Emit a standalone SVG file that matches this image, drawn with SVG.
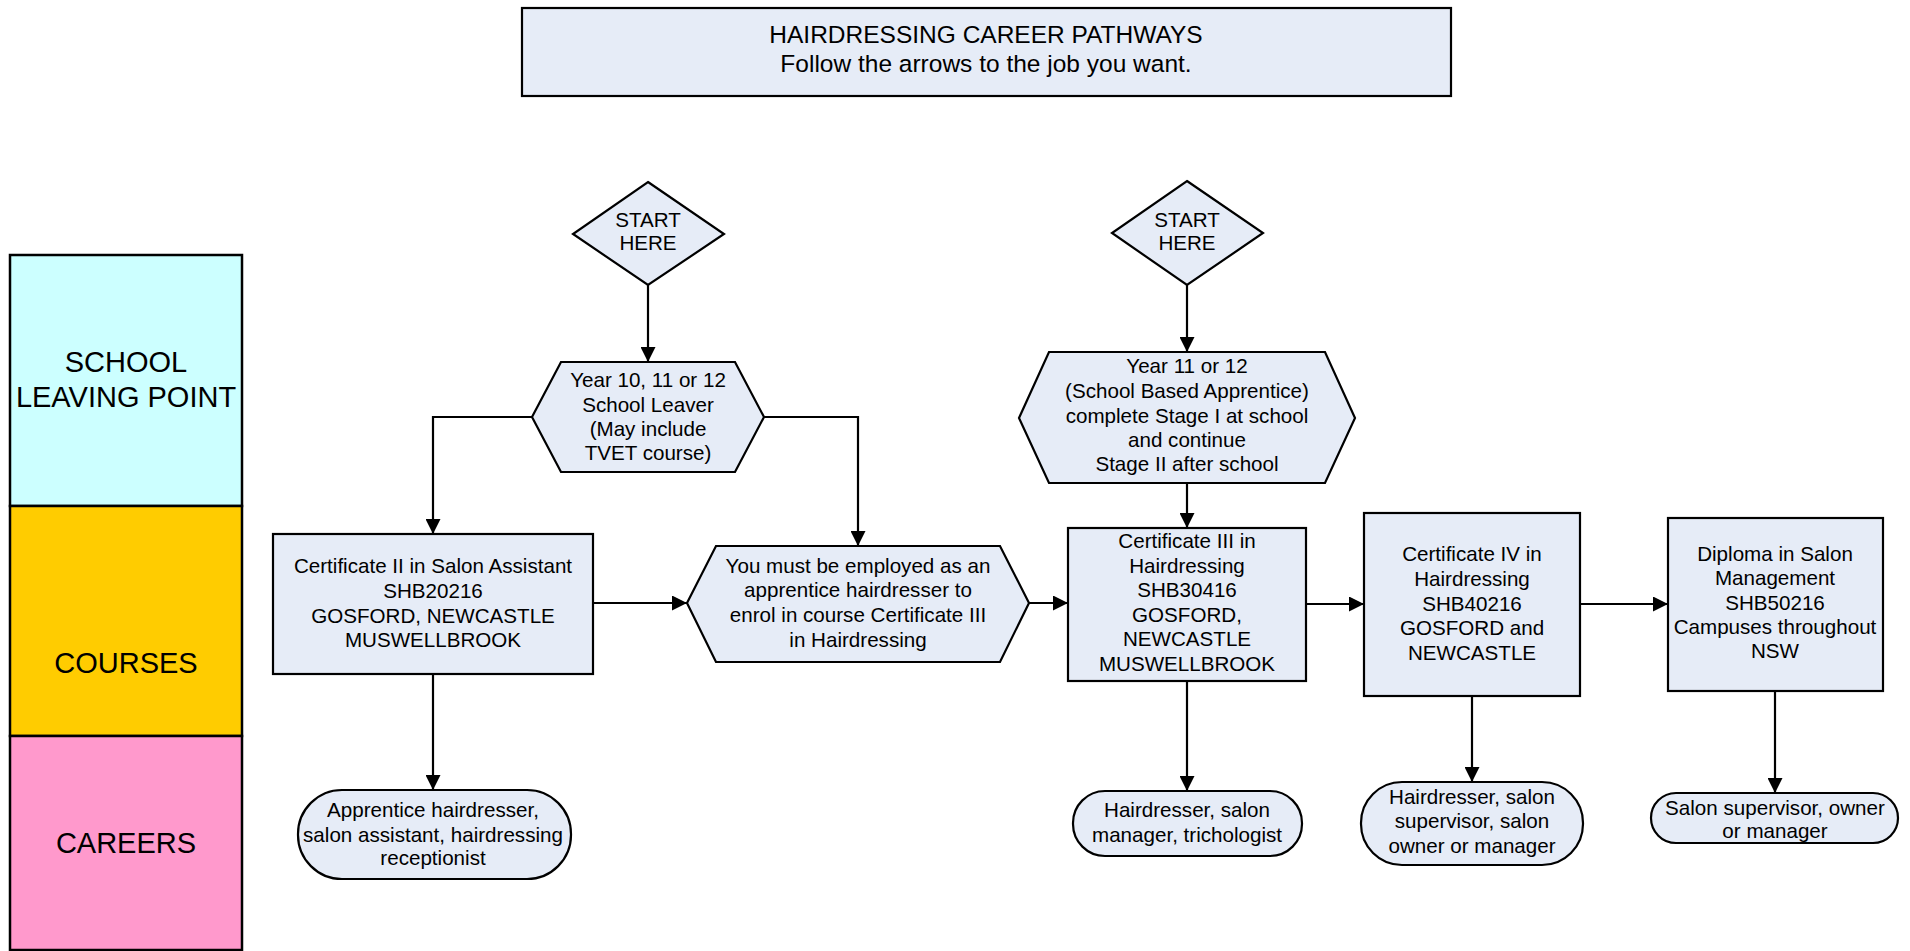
<svg xmlns="http://www.w3.org/2000/svg" width="1910" height="951" viewBox="0 0 1910 951">
<style>
.n{fill:#E6ECF7;stroke:#000;stroke-width:2.2}
.t{font-family:"Liberation Sans",Arial,sans-serif;font-size:20.6px;fill:#000;text-anchor:middle}
.h{font-family:"Liberation Sans",Arial,sans-serif;font-size:24.5px;fill:#000;text-anchor:middle}
.lane{stroke:#000;stroke-width:2.5}
.lt{font-family:"Liberation Sans",Arial,sans-serif;font-size:29px;fill:#000;text-anchor:middle}
.c{fill:none;stroke:#000;stroke-width:2.2;marker-end:url(#ah)}
</style>
<defs>
<marker id="ah" markerUnits="userSpaceOnUse" markerWidth="15" markerHeight="15" viewBox="0 0 15 15" refX="15" refY="7.5" orient="auto">
<path d="M0,0 L15,7.5 L0,15 Z" fill="#000"/>
</marker>
</defs>
<rect width="1910" height="951" fill="#fff"/>
<g id="title">
<rect class="n" x="522" y="8" width="929" height="88"/>
<text class="h" x="986" y="43">HAIRDRESSING CAREER PATHWAYS</text>
<text class="h" x="986" y="72">Follow the arrows to the job you want.</text>
</g>
<g id="lane-school">
<rect class="lane" x="10" y="255" width="232" height="251" fill="#CCFFFF"/>
<text class="lt" x="126" y="372">SCHOOL</text>
<text class="lt" x="126" y="407">LEAVING POINT</text>
</g>
<g id="lane-courses">
<rect class="lane" x="10" y="506" width="232" height="230" fill="#FFCC00"/>
<text class="lt" x="126" y="673">COURSES</text>
</g>
<g id="lane-careers">
<rect class="lane" x="10" y="736" width="232" height="214" fill="#FF99CC"/>
<text class="lt" x="126" y="853">CAREERS</text>
</g>
<g id="connectors">
<path class="c" d="M648,285 L648,362"/>
<path class="c" d="M532,417 L433,417 L433,534"/>
<path class="c" d="M764,417 L858,417 L858,546"/>
<path class="c" d="M593,603 L687,603"/>
<path class="c" d="M433,674 L433,790"/>
<path class="c" d="M1187,285 L1187,352"/>
<path class="c" d="M1187,483 L1187,528"/>
<path class="c" d="M1029,603 L1068,603"/>
<path class="c" d="M1306,604 L1364,604"/>
<path class="c" d="M1580,604 L1668,604"/>
<path class="c" d="M1187,681 L1187,791"/>
<path class="c" d="M1472,696 L1472,782"/>
<path class="c" d="M1775,691 L1775,793"/>
</g>
<g id="start1">
<polygon class="n" points="648,182 724,234 648,285 573,234"/>
<text class="t" x="648" y="227">START</text>
<text class="t" x="648" y="250">HERE</text>
</g>
<g id="start2">
<polygon class="n" points="1187,181 1263,233 1187,285 1112,233"/>
<text class="t" x="1187" y="227">START</text>
<text class="t" x="1187" y="250">HERE</text>
</g>
<g id="leaver">
<polygon class="n" points="532,417 561,362 735,362 764,417 735,472 561,472"/>
<text class="t" x="648" y="387">Year 10, 11 or 12</text>
<text class="t" x="648" y="412">School Leaver</text>
<text class="t" x="648" y="436">(May include</text>
<text class="t" x="648" y="460">TVET course)</text>
</g>
<g id="sba">
<polygon class="n" points="1019,418 1049,352 1325,352 1355,418 1325,483 1049,483"/>
<text class="t" x="1187" y="373">Year 11 or 12</text>
<text class="t" x="1187" y="398">(School Based Apprentice)</text>
<text class="t" x="1187" y="423">complete Stage I at school</text>
<text class="t" x="1187" y="447">and continue</text>
<text class="t" x="1187" y="471">Stage II after school</text>
</g>
<g id="cert2">
<rect class="n" x="273" y="534" width="320" height="140"/>
<text class="t" x="433" y="573">Certificate II in Salon Assistant</text>
<text class="t" x="433" y="598">SHB20216</text>
<text class="t" x="433" y="623">GOSFORD, NEWCASTLE</text>
<text class="t" x="433" y="647">MUSWELLBROOK</text>
</g>
<g id="employed">
<polygon class="n" points="687,603 716,546 1000,546 1029,603 1000,662 716,662"/>
<text class="t" x="858" y="573">You must be employed as an</text>
<text class="t" x="858" y="597">apprentice hairdresser to</text>
<text class="t" x="858" y="622">enrol in course Certificate III</text>
<text class="t" x="858" y="647">in Hairdressing</text>
</g>
<g id="cert3">
<rect class="n" x="1068" y="528" width="238" height="153"/>
<text class="t" x="1187" y="548">Certificate III in</text>
<text class="t" x="1187" y="573">Hairdressing</text>
<text class="t" x="1187" y="597">SHB30416</text>
<text class="t" x="1187" y="622">GOSFORD,</text>
<text class="t" x="1187" y="646">NEWCASTLE</text>
<text class="t" x="1187" y="671">MUSWELLBROOK</text>
</g>
<g id="cert4">
<rect class="n" x="1364" y="513" width="216" height="183"/>
<text class="t" x="1472" y="561">Certificate IV in</text>
<text class="t" x="1472" y="586">Hairdressing</text>
<text class="t" x="1472" y="611">SHB40216</text>
<text class="t" x="1472" y="635">GOSFORD and</text>
<text class="t" x="1472" y="660">NEWCASTLE</text>
</g>
<g id="diploma">
<rect class="n" x="1668" y="518" width="215" height="173"/>
<text class="t" x="1775" y="561">Diploma in Salon</text>
<text class="t" x="1775" y="585">Management</text>
<text class="t" x="1775" y="610">SHB50216</text>
<text class="t" x="1775" y="634">Campuses throughout</text>
<text class="t" x="1775" y="658">NSW</text>
</g>
<g id="career1">
<rect class="n" x="298" y="790" width="273" height="89" rx="44" ry="44"/>
<text class="t" x="433" y="817">Apprentice hairdresser,</text>
<text class="t" x="433" y="842">salon assistant, hairdressing</text>
<text class="t" x="433" y="865">receptionist</text>
</g>
<g id="career2">
<rect class="n" x="1073" y="791" width="229" height="65" rx="32" ry="32"/>
<text class="t" x="1187" y="817">Hairdresser, salon</text>
<text class="t" x="1187" y="842">manager, trichologist</text>
</g>
<g id="career3">
<rect class="n" x="1361" y="782" width="222" height="83" rx="41" ry="41"/>
<text class="t" x="1472" y="804">Hairdresser, salon</text>
<text class="t" x="1472" y="828">supervisor, salon</text>
<text class="t" x="1472" y="853">owner or manager</text>
</g>
<g id="career4">
<rect class="n" x="1651" y="793" width="247" height="50" rx="25" ry="25"/>
<text class="t" x="1775" y="815">Salon supervisor, owner</text>
<text class="t" x="1775" y="838">or manager</text>
</g>
</svg>
